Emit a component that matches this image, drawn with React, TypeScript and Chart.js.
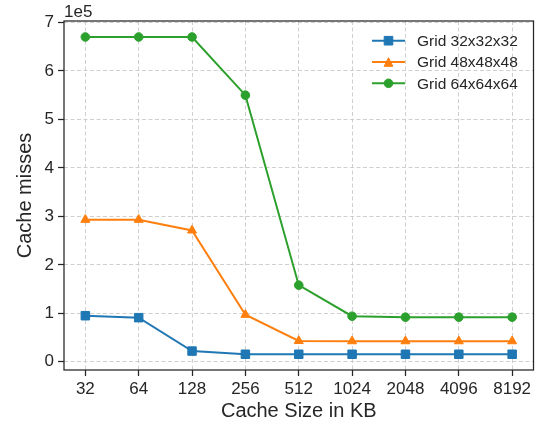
import React, { useEffect, useRef } from "react";
import { Chart, registerables } from "chart.js";

Chart.register(...registerables);

// ---- data ----
const categories = ["32", "64", "128", "256", "512", "1024", "2048", "4096", "8192"];
const seriesNames = ["Grid 32x32x32", "Grid 48x48x48", "Grid 64x64x64"];
const grid32 = [0.95, 0.91, 0.22, 0.155, 0.155, 0.155, 0.155, 0.155, 0.155];
const grid48 = [2.93, 2.93, 2.71, 0.97, 0.43, 0.425, 0.425, 0.425, 0.425];
const grid64 = [6.7, 6.7, 6.7, 5.5, 1.58, 0.94, 0.92, 0.92, 0.92];
const yTicks = [0, 1, 2, 3, 4, 5, 6, 7];
const yExponentLabel = "1e5";
const xTitle = "Cache Size in KB";
const yTitle = "Cache misses";

const colors = ["#1f77b4", "#ff7f0e", "#2ca02c"];
const markers = ["rect", "triangle", "circle"];
const markerRadius = [6, 5.2, 4.3];
const FONT = "'Liberation Sans', Arial, Helvetica, sans-serif";
const TEXT = "#262626";

function drawMarker(ctx: CanvasRenderingContext2D, kind: string, x: number, y: number, color: string) {
  ctx.save();
  ctx.fillStyle = color;
  ctx.strokeStyle = color;
  ctx.lineWidth = 1;
  ctx.beginPath();
  if (kind === "rect") {
    const s = 4.3;
    ctx.rect(x - s, y - s, 2 * s, 2 * s);
  } else if (kind === "triangle") {
    const h = 4.3;
    ctx.moveTo(x, y - h);
    ctx.lineTo(x + h, y + h);
    ctx.lineTo(x - h, y + h);
    ctx.closePath();
  } else {
    ctx.arc(x, y, 4.3, 0, Math.PI * 2);
  }
  ctx.fill();
  ctx.stroke();
  ctx.restore();
}

const decorPlugin = {
  id: "decor",
  afterDraw(chart: any) {
    const { ctx, chartArea } = chart;
    const { left, right, top, bottom } = chartArea;
    ctx.save();
    // frame
    ctx.strokeStyle = TEXT;
    ctx.lineWidth = 1.25;
    ctx.strokeRect(left, top, right - left, bottom - top);
    // exponent label
    ctx.fillStyle = TEXT;
    ctx.font = `17px ${FONT}`;
    ctx.textAlign = "left";
    ctx.textBaseline = "alphabetic";
    ctx.fillText(yExponentLabel, left, top - 4.5);
    // legend
    const lx0 = 372;
    const lx1 = 405;
    const ty = 40.7;
    const dy = 21.3;
    ctx.font = `15.5px ${FONT}`;
    ctx.textBaseline = "middle";
    chart.data.datasets.forEach((ds: any, i: number) => {
      const y = ty + i * dy;
      ctx.strokeStyle = colors[i];
      ctx.lineWidth = 2;
      ctx.beginPath();
      ctx.moveTo(lx0, y);
      ctx.lineTo(lx1, y);
      ctx.stroke();
      drawMarker(ctx, markers[i], (lx0 + lx1) / 2, y, colors[i]);
      ctx.fillStyle = TEXT;
      ctx.fillText(ds.label, 417, y + 1);
    });
    ctx.restore();
  },
};

export default function App() {
  const ref = useRef<HTMLCanvasElement | null>(null);

  useEffect(() => {
    document.body.style.margin = "0";
    const canvas = ref.current;
    if (!canvas) return;
    const seriesValues = [grid32, grid48, grid64];
    const chart = new Chart(canvas, {
      type: "line",
      data: {
        datasets: seriesValues.map((vals, i) => ({
          label: seriesNames[i],
          data: vals.map((v, j) => ({ x: j, y: v })),
          borderColor: colors[i],
          backgroundColor: colors[i],
          borderWidth: 2,
          pointStyle: markers[i] as any,
          pointRadius: markerRadius[i],
          pointBorderWidth: 1,
          pointBackgroundColor: colors[i],
          pointBorderColor: colors[i],
          tension: 0,
          fill: false,
        })),
      },
      options: {
        animation: false,
        responsive: false,
        devicePixelRatio: 1,
        layout: { padding: { top: 21, right: 7.5, left: 0, bottom: 0 } },
        plugins: { legend: { display: false }, tooltip: { enabled: false } },
        scales: {
          x: {
            type: "linear",
            min: -0.4,
            max: 8.4,
            afterBuildTicks: (scale: any) => {
              scale.ticks = categories.map((_, i) => ({ value: i }));
            },
            afterFit: (scale: any) => {
              scale.height = 57;
            },
            ticks: {
              callback: (v: any) => categories[Math.round(Number(v))],
              color: TEXT,
              font: { family: FONT, size: 17 },
              padding: 3,
              maxRotation: 0,
              autoSkip: false,
            },
            grid: {
              color: "#cfcfcf",
              lineWidth: 1,
              drawTicks: true,
              tickLength: 6,
              tickColor: TEXT,
              tickWidth: 1.25,
              tickBorderDash: [],
            },
            border: { display: false, dash: [4, 2.5] },
            title: {
              display: true,
              text: xTitle,
              color: TEXT,
              font: { family: FONT, size: 20 },
              padding: { top: 0, bottom: 3.5 },
            },
          },
          y: {
            type: "linear",
            min: -0.17,
            max: 7.03,
            afterBuildTicks: (scale: any) => {
              scale.ticks = yTicks.map((v) => ({ value: v }));
            },
            afterFit: (scale: any) => {
              scale.width = 64;
            },
            ticks: {
              callback: (v: any) => String(v),
              color: TEXT,
              font: { family: FONT, size: 17 },
              padding: 4,
            },
            grid: {
              color: "#cfcfcf",
              lineWidth: 1,
              drawTicks: true,
              tickLength: 6,
              tickColor: TEXT,
              tickWidth: 1.25,
              tickBorderDash: [],
            },
            border: { display: false, dash: [4, 2.5] },
            title: {
              display: true,
              text: yTitle,
              color: TEXT,
              font: { family: FONT, size: 20 },
              padding: { top: 13.6, bottom: 0 },
            },
          },
        },
      },
      plugins: [decorPlugin],
    });
    return () => chart.destroy();
  }, []);

  return (
    <div style={{ width: 541, height: 427, background: "#fff" }}>
      <canvas ref={ref} width={541} height={427} style={{ display: "block", width: 541, height: 427 }} />
    </div>
  );
}
